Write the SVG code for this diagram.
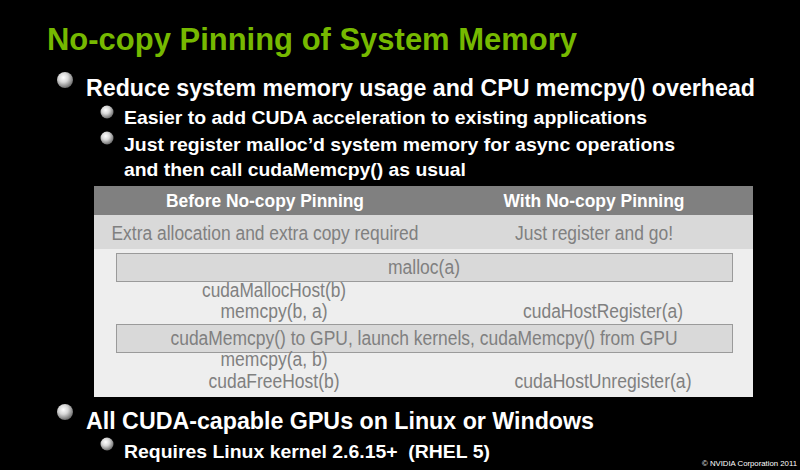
<svg xmlns="http://www.w3.org/2000/svg" width="800" height="470" viewBox="0 0 800 470">
<defs>
<radialGradient id="ball" cx="0.4" cy="0.35" r="0.65">
<stop offset="0" stop-color="#ffffff"/>
<stop offset="0.45" stop-color="#d8d8d8"/>
<stop offset="1" stop-color="#6e6e6e"/>
</radialGradient>
<style>
text{font-family:"Liberation Sans",Arial,sans-serif}
.title{font-weight:bold;font-size:32px;fill:#76b900}
.l1{font-weight:bold;font-size:23.5px;fill:#ffffff}
.l2{font-weight:bold;font-size:19px;fill:#ffffff}
.th{font-weight:bold;font-size:18px;fill:#ffffff;text-anchor:middle}
.td{font-size:19.5px;fill:#808080;text-anchor:middle}
.box{fill:#d9d9d9;stroke:#9a9a9a;stroke-width:1}
.copy{font-size:8px;fill:#ffffff}
</style>
</defs>
<rect x="0" y="0" width="800" height="470" fill="#000000"/>
<g id="title">
<text class="title" x="47" y="50" textLength="530" lengthAdjust="spacingAndGlyphs">No-copy Pinning of System Memory</text>
</g>
<g id="bullets-top">
<circle cx="65" cy="80" r="8" fill="url(#ball)"/>
<text class="l1" x="86" y="96" textLength="669" lengthAdjust="spacingAndGlyphs">Reduce system memory usage and CPU memcpy() overhead</text>
<circle cx="107" cy="112" r="6.5" fill="url(#ball)"/>
<text class="l2" x="124" y="124" textLength="523" lengthAdjust="spacingAndGlyphs">Easier to add CUDA acceleration to existing applications</text>
<circle cx="107" cy="138" r="6.5" fill="url(#ball)"/>
<text class="l2" x="124" y="151" textLength="551" lengthAdjust="spacingAndGlyphs">Just register malloc’d system memory for async operations</text>
<text class="l2" x="124" y="176" textLength="342" lengthAdjust="spacingAndGlyphs">and then call cudaMemcpy() as usual</text>
</g>
<g id="table">
<rect x="94" y="186" width="659" height="211" fill="#eeeeee"/>
<rect x="94" y="186" width="659" height="29" fill="#808080"/>
<rect x="94" y="215" width="659" height="34" fill="#d9d9d9"/>
<text class="th" x="265" y="207" textLength="198" lengthAdjust="spacingAndGlyphs">Before No-copy Pinning</text>
<text class="th" x="594" y="207" textLength="181" lengthAdjust="spacingAndGlyphs">With No-copy Pinning</text>
<text class="td" x="265" y="240" textLength="307" lengthAdjust="spacingAndGlyphs">Extra allocation and extra copy required</text>
<text class="td" x="594" y="240" textLength="158" lengthAdjust="spacingAndGlyphs">Just register and go!</text>
<g id="malloc">
<rect class="box" x="116.5" y="253.5" width="616" height="28"/>
<text class="td" x="424" y="274" textLength="72" lengthAdjust="spacingAndGlyphs">malloc(a)</text>
</g>
<text class="td" x="274" y="297" textLength="144" lengthAdjust="spacingAndGlyphs">cudaMallocHost(b)</text>
<text class="td" x="274" y="318" textLength="107" lengthAdjust="spacingAndGlyphs">memcpy(b, a)</text>
<text class="td" x="603" y="318" textLength="160" lengthAdjust="spacingAndGlyphs">cudaHostRegister(a)</text>
<g id="gpu">
<rect class="box" x="116.5" y="324.5" width="616" height="28"/>
<text class="td" x="424" y="345" textLength="507" lengthAdjust="spacingAndGlyphs">cudaMemcpy() to GPU, launch kernels, cudaMemcpy() from GPU</text>
</g>
<text class="td" x="274" y="366" textLength="107" lengthAdjust="spacingAndGlyphs">memcpy(a, b)</text>
<text class="td" x="274" y="388" textLength="131" lengthAdjust="spacingAndGlyphs">cudaFreeHost(b)</text>
<text class="td" x="603" y="388" textLength="177" lengthAdjust="spacingAndGlyphs">cudaHostUnregister(a)</text>
</g>
<g id="bullets-bottom">
<circle cx="65" cy="412" r="8" fill="url(#ball)"/>
<text class="l1" x="86" y="429" textLength="508" lengthAdjust="spacingAndGlyphs">All CUDA-capable GPUs on Linux or Windows</text>
<circle cx="107" cy="444" r="6.5" fill="url(#ball)"/>
<text class="l2" x="124" y="458" textLength="366" lengthAdjust="spacingAndGlyphs" xml:space="preserve" style="white-space:pre">Requires Linux kernel 2.6.15+  (RHEL 5)</text>
</g>
<text class="copy" x="702" y="466" textLength="95" lengthAdjust="spacingAndGlyphs">© NVIDIA Corporation 2011</text>
</svg>
